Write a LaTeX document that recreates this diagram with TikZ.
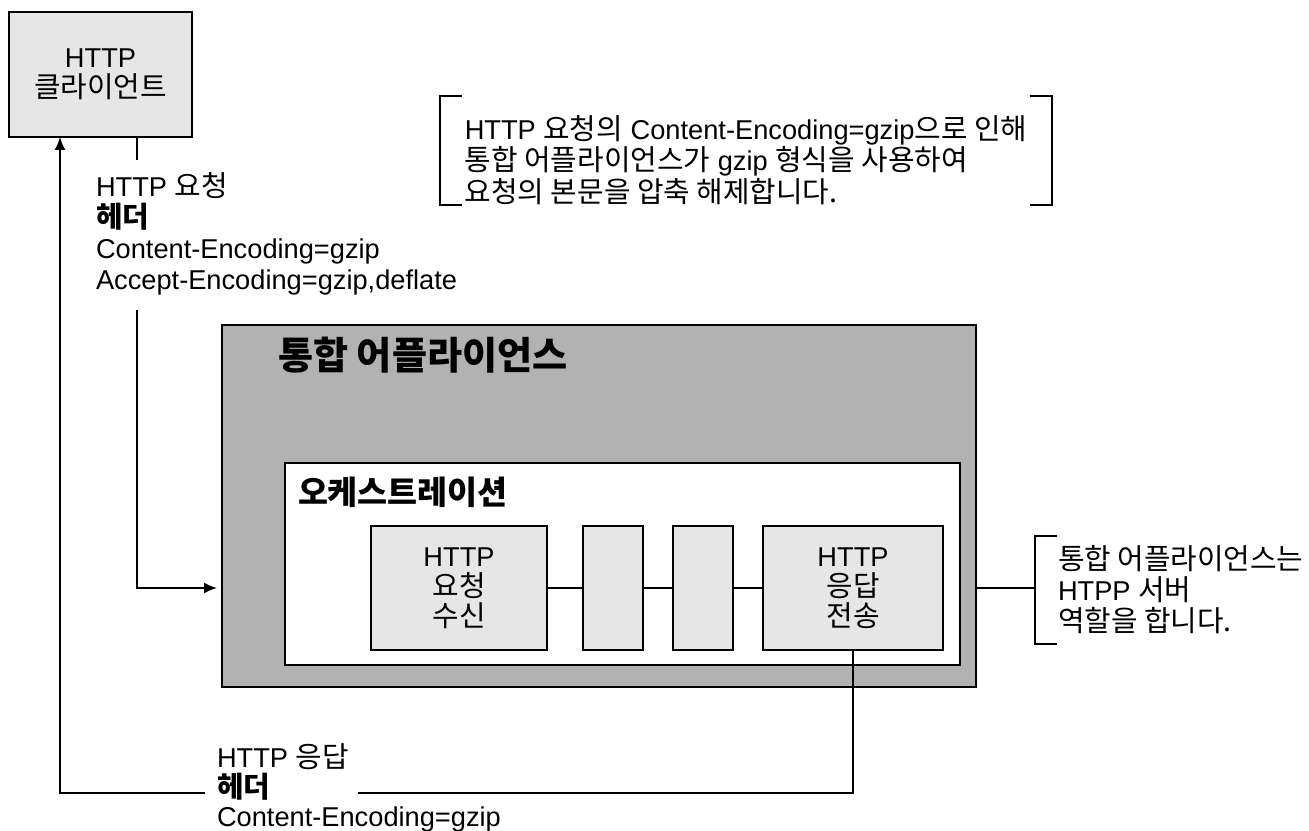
\documentclass[tikz,border=0pt]{standalone}
\usepackage{fontspec}
\setmainfont{Liberation Sans}
\newfontfamily\krfont[Scale=1.06]{Noto Sans CJK KR}
\newcommand\kr[1]{{\krfont #1}}
\usetikzlibrary{arrows.meta}
\definecolor{boxgray}{RGB}{230,230,230}
\definecolor{appgray}{RGB}{178,178,178}
\begin{document}
\begin{tikzpicture}
  [x=0.02cm,y=-0.02cm,line width=1pt,
   every node/.style={font=\fontsize{15.5}{17.6}\selectfont,inner sep=0pt,outer sep=0pt},
   graybox/.style={draw=black,fill=boxgray,align=center,minimum height=2.48cm},
   note/.style={align=left},
   title/.style={anchor=west,font=\fontsize{17.5}{20}\selectfont\bfseries},
   >={Latex[length=2.6mm,width=2.2mm]}]
  \useasboundingbox (0,0) rectangle (1309,831);

  % client and appliance
  \node[graybox,minimum width=3.66cm,minimum height=2.5cm,font=\fontsize{15.5}{17}\selectfont] (client) at (100.5,74.5) {HTTP\\\kr{클라이언트}};
  \node[draw=black,fill=appgray,minimum width=15.08cm,minimum height=7.24cm] (appl) at (599,506) {};
  \node[title,font=\fontsize{20.5}{22}\selectfont\bfseries] (appltitle) at (278,355) {\kr{통합 어플라이언스}};
  \node[draw=black,fill=white,minimum width=13.5cm,minimum height=4.04cm] (orch) at (622.5,564) {};
  \node[title] (orchtitle) at (298,492) {\kr{오케스트레이션}};

  % steps of the orchestration
  \node[graybox,minimum width=3.52cm,font=\fontsize{15.5}{17}\selectfont] (recv) at (459,588) {HTTP\\\kr{요청}\\\kr{수신}};
  \node[graybox,minimum width=1.2cm] (step1) at (613,588) {};
  \node[graybox,minimum width=1.2cm] (step2) at (703,588) {};
  \node[graybox,minimum width=3.6cm,font=\fontsize{15.5}{17}\selectfont] (send) at (853,588) {HTTP\\\kr{응답}\\\kr{전송}};

  \foreach \from/\to in {recv/step1, step1/step2, step2/send}
    \draw (\from) -- (\to);

  % request
  \coordinate (reqtick) at (137,160);
  \draw ([xshift=2.56cm]client.south west) -- (reqtick);
  \node[note,anchor=north west] (reqhdr) at (96,173) {HTTP \kr{요청}\\\textbf{\kr{헤더}}\\Content-Encoding=gzip\\Accept-Encoding=gzip,deflate};
  \coordinate (reqfrom) at (137,310);
  \draw[->,shorten >=0.1cm] (reqfrom) |- (recv -| appl.west);

  % response
  \coordinate (respR) at (358,793);
  \coordinate (respL) at (205,793);
  \draw (send.south) |- (respR);
  \draw[->] (respL) -| ([xshift=1.02cm]client.south west);
  \node[note,anchor=north west,font=\fontsize{15.5}{16.8}\selectfont] (resphdr) at (217,744) {HTTP \kr{응답}\\\textbf{\kr{헤더}}\\Content-Encoding=gzip};

  % note on the server role
  \node[note,inner xsep=0.46cm,inner ysep=0.2cm,anchor=west] (srvnote) at (1035,590) {\kr{통합 어플라이언스는}\\HTPP \kr{서버}\\\kr{역할을 합니다.}};
  \draw (appl.east |- recv) -- (recv -| srvnote.west);
  \draw ([xshift=0.44cm]srvnote.north west) -| (srvnote.south west) -- ++(0.44cm,0);

  % note on gzip
  \node[note,minimum width=12.24cm,font=\fontsize{15.5}{16.6}\selectfont] (gzipnote) at (746,160)
    {HTTP \kr{요청의} Content-Encoding=gzip\kr{으로 인해}\\\kr{통합 어플라이언스가} gzip \kr{형식을 사용하여}\\\kr{요청의 본문을 압축 해제합니다.}};
  \draw ([xshift=0.44cm,yshift=1.28cm]gzipnote.west) -| ([yshift=-0.9cm]gzipnote.west) -- ++(0.44cm,0);
  \draw ([xshift=-0.44cm,yshift=1.28cm]gzipnote.east) -| ([yshift=-0.9cm]gzipnote.east) -- ++(-0.44cm,0);
\end{tikzpicture}
\end{document}
